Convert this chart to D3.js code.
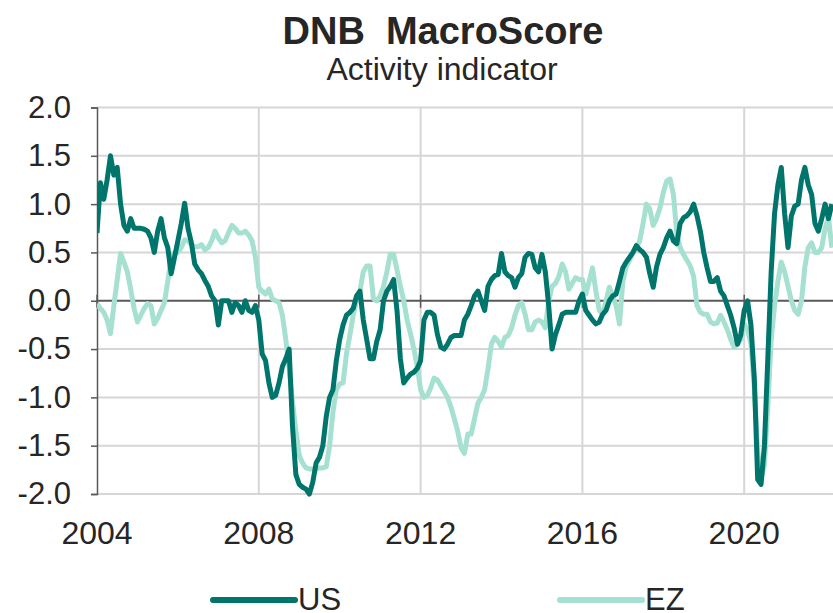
<!DOCTYPE html>
<html><head><meta charset="utf-8">
<script src="https://cdn.jsdelivr.net/npm/d3@7"></script>
<style>body{margin:0;background:#fff}svg{display:block}text{font-family:"Liberation Sans",Arial,sans-serif;fill:#262626}</style>
</head><body>
<svg id="c" width="833" height="613"></svg>
<script>
// Monthly data starting Jan 2004
const startYear = 2004;
const seriesNames = ["US", "EZ"];
const usValues = [
 0.70,1.22,1.05,1.25,1.50,1.30,1.38,1.00,0.78,0.72,0.85,0.75,
 0.75,0.75,0.74,0.72,0.65,0.50,0.72,0.85,0.65,0.55,0.28,0.45,
 0.62,0.80,1.01,0.75,0.60,0.38,0.32,0.28,0.21,0.15,0.05,0.00,
 -0.25,0.00,0.00,0.00,-0.12,-0.02,-0.05,-0.12,0.00,-0.10,-0.12,-0.05,
 -0.20,-0.55,-0.62,-0.85,-1.00,-0.98,-0.85,-0.68,-0.60,-0.50,-1.30,-1.80,
 -1.90,-1.93,-1.95,-2.00,-1.88,-1.68,-1.62,-1.50,-1.20,-1.00,-0.92,-0.62,
 -0.40,-0.25,-0.15,-0.12,-0.08,0.05,0.10,-0.20,-0.40,-0.60,-0.60,-0.42,
 -0.30,0.00,0.10,0.15,0.22,-0.10,-0.60,-0.85,-0.80,-0.76,-0.74,-0.70,
 -0.62,-0.20,-0.12,-0.12,-0.15,-0.35,-0.48,-0.50,-0.45,-0.38,-0.36,-0.36,
 -0.36,-0.20,-0.14,-0.05,0.05,0.10,0.00,-0.10,0.15,0.22,0.26,0.27,
 0.49,0.30,0.26,0.24,0.14,0.24,0.28,0.45,0.49,0.48,0.34,0.30,
 0.48,0.30,-0.05,-0.50,-0.35,-0.25,-0.14,-0.12,-0.12,-0.12,-0.12,0.00,
 0.07,-0.10,-0.15,-0.20,-0.24,-0.22,-0.14,-0.10,0.00,0.05,0.07,0.20,
 0.34,0.40,0.45,0.50,0.57,0.53,0.50,0.45,0.28,0.14,0.35,0.48,
 0.55,0.65,0.72,0.62,0.59,0.80,0.86,0.88,0.92,1.00,0.88,0.72,
 0.50,0.34,0.20,0.20,0.24,0.10,0.05,-0.05,-0.15,-0.28,-0.45,-0.35,
 -0.10,0.00,-0.25,-0.80,-1.85,-1.90,-1.50,-0.60,0.30,0.90,1.20,1.38,
 0.90,0.55,0.88,0.98,1.00,1.25,1.38,1.20,1.10,0.80,0.72,0.85,
 1.00,0.85,1.00
];
const ezValues = [
 -0.03,-0.08,-0.12,-0.20,-0.34,-0.05,0.22,0.49,0.40,0.30,0.12,-0.08,
 -0.22,-0.15,-0.08,-0.03,-0.05,-0.24,-0.18,-0.10,-0.02,0.20,0.45,0.50,
 0.50,0.55,0.63,0.62,0.58,0.56,0.56,0.58,0.53,0.55,0.62,0.72,
 0.65,0.60,0.62,0.70,0.78,0.75,0.70,0.70,0.72,0.68,0.62,0.45,
 0.14,0.10,0.07,0.12,0.02,0.00,-0.02,-0.15,-0.40,-0.70,-1.04,-1.35,
 -1.60,-1.68,-1.73,-1.74,-1.74,-1.74,-1.73,-1.73,-1.72,-1.50,-1.15,-0.92,
 -0.86,-0.85,-0.55,-0.36,-0.15,0.00,0.10,0.30,0.36,0.36,0.02,0.00,
 0.05,0.15,0.30,0.48,0.48,0.32,0.15,0.00,-0.20,-0.34,-0.50,-0.68,
 -0.92,-1.00,-0.98,-0.90,-0.80,-0.82,-0.88,-0.94,-1.00,-1.10,-1.22,-1.35,
 -1.52,-1.58,-1.38,-1.38,-1.22,-1.06,-1.00,-0.92,-0.70,-0.45,-0.38,-0.42,
 -0.48,-0.38,-0.36,-0.28,-0.15,-0.05,-0.02,-0.14,-0.30,-0.30,-0.22,-0.20,
 -0.22,-0.28,0.00,0.15,0.18,0.25,0.38,0.30,0.12,0.18,0.24,0.22,
 0.22,0.07,0.20,0.34,0.10,-0.10,-0.14,0.00,0.14,0.05,-0.05,-0.24,
 0.20,0.35,0.42,0.50,0.55,0.62,0.80,1.00,0.95,0.78,0.85,0.96,
 1.12,1.24,1.26,1.10,0.70,0.55,0.48,0.42,0.36,0.25,-0.05,-0.12,
 -0.14,-0.14,-0.22,-0.24,-0.23,-0.15,-0.22,-0.30,-0.40,-0.48,-0.45,-0.40,
 -0.24,-0.30,-0.45,-0.90,-1.55,-1.85,-1.70,-1.10,-0.40,-0.05,0.20,0.40,
 0.30,0.15,0.00,-0.10,-0.14,0.00,0.35,0.55,0.60,0.50,0.50,0.55,
 0.75,0.86,0.55
];
const yTicks = [2.0,1.5,1.0,0.5,0.0,-0.5,-1.0,-1.5,-2.0];
const xTicks = [2004,2008,2012,2016,2020];
const titleText = "DNB\u00a0 MacroScore";
const subtitleText = "Activity indicator";

const colors = {US:"#00756c", EZ:"#a6e0d0"};
const svg = d3.select("#c");
const pLeft = 97, pRight = 833, pTop = 107.5, pBottom = 494;
const x = d3.scaleLinear().domain([2004, 2004 + (pRight-pLeft)/40.45]).range([pLeft, pRight]);
const y = d3.scaleLinear().domain([-2, 2]).range([pBottom, pTop]);

// title
svg.append("text").attr("x",443).attr("y",44).attr("text-anchor","middle")
  .style("font-weight","bold").style("font-size","38px").text(titleText);
svg.append("text").attr("x",442).attr("y",80).attr("text-anchor","middle")
  .style("font-size","32px").text(subtitleText);

// grid
const g = svg.append("g");
g.selectAll("line.h").data(yTicks.filter(d=>d!==0)).join("line")
  .attr("x1",pLeft).attr("x2",pRight+5).attr("y1",d=>y(d)).attr("y2",d=>y(d))
  .attr("stroke","#d6d6d6").attr("stroke-width",2);
g.selectAll("line.v").data(xTicks.slice(1)).join("line")
  .attr("x1",d=>x(d)).attr("x2",d=>x(d)).attr("y1",pTop).attr("y2",pBottom)
  .attr("stroke","#d6d6d6").attr("stroke-width",2);

// y axis
const yAxis = d3.axisLeft(y).tickValues(yTicks).tickFormat(d3.format(".1f")).tickSize(6).tickPadding(20);
const ya = svg.append("g").attr("transform",`translate(${pLeft},0)`).call(yAxis);
ya.select(".domain").attr("stroke","#595959").attr("stroke-width",1.5);
ya.selectAll(".tick line").attr("stroke","#595959").attr("stroke-width",1.5);
ya.selectAll("text").style("font-size","31px").attr("fill","#262626")
  .text(d=>d<0 ? "-"+Math.abs(d).toFixed(1) : d.toFixed(1));

// zero line with ticks
const xa = svg.append("g").attr("transform",`translate(0,${y(0)})`);
xa.append("line").attr("x1",pLeft).attr("x2",pRight+5).attr("y1",0).attr("y2",0)
  .attr("stroke","#595959").attr("stroke-width",2);
xa.selectAll("line.t").data(xTicks).join("line")
  .attr("x1",d=>x(d)).attr("x2",d=>x(d)).attr("y1",-6).attr("y2",7)
  .attr("stroke","#595959").attr("stroke-width",1.5);

// x labels
svg.append("g").selectAll("text").data(xTicks).join("text")
  .attr("x",d=>x(d)).attr("y",544).attr("text-anchor","middle")
  .style("font-size","32px").text(d3.format("d"));

// lines
svg.append("defs").append("clipPath").attr("id","clip").append("rect")
  .attr("x",pLeft).attr("y",0).attr("width",pRight-pLeft).attr("height",613);
const line = d3.line().x((d,i)=>x(startYear + i/12)).y(d=>y(d));
const plot = svg.append("g").attr("clip-path","url(#clip)");
plot.append("path").datum(ezValues).attr("d",line).attr("fill","none")
  .attr("stroke",colors.EZ).attr("stroke-width",5).attr("stroke-linejoin","round");
plot.append("path").datum(usValues).attr("d",line).attr("fill","none")
  .attr("stroke",colors.US).attr("stroke-width",5).attr("stroke-linejoin","round");

// legend
const legendX = {US:213, EZ:560};
const lg = svg.append("g").selectAll("g").data(seriesNames).join("g")
  .attr("transform",d=>`translate(${legendX[d]},600)`);
lg.append("line").attr("x1",0).attr("x2",82).attr("y1",0).attr("y2",0)
  .attr("stroke",d=>colors[d]).attr("stroke-width",6).attr("stroke-linecap","round");
lg.append("text").attr("x",85).attr("y",610-600).style("font-size","31px").text(d=>d);
</script>
</body></html>
